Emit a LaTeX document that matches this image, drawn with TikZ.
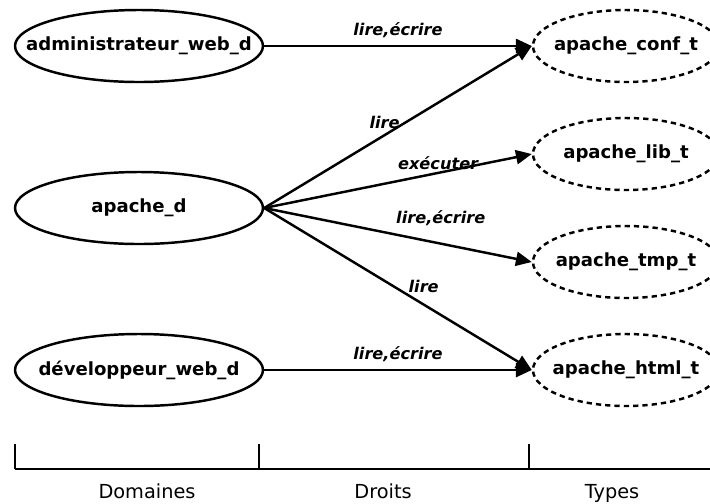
\documentclass[tikz,border=0pt]{standalone}
\usepackage{fontspec}
\setmainfont{DejaVu Sans}
\usetikzlibrary{arrows.meta,positioning,shapes.geometric}

\begin{document}
\begin{tikzpicture}[every node/.style={font=\fontsize{10}{12}\selectfont},
 dom/.style={draw,ellipse,line width=1.4pt,inner xsep=-16pt,inner ysep=0pt,minimum width=4.96cm,minimum height=1.44cm,font=\fontsize{10.3}{12}\selectfont\bfseries},
 typ/.style={dom,dash pattern=on 3pt off 2.3pt,minimum width=3.72cm},
 arr/.style={-{Triangle[length=9pt,width=8pt]},line width=1.4pt},
 lab/.style={font=\fontsize{9.2}{11}\selectfont\bfseries\itshape,inner sep=1pt}]
\clip (0,0) rectangle (14.2,-10.06);
% domaines
\node[dom] (adm) at (2.78,-0.92) {administrateur\_web\_d};
\node[dom] (apd) at (2.78,-4.16) {apache\_d};
\node[dom] (dev) at (2.78,-7.40) {développeur\_web\_d};
% types
\node[typ] (conf) at (12.52,-0.92) {apache\_conf\_t};
\node[typ] (lib) at (12.52,-3.08) {apache\_lib\_t};
\node[typ] (tmp) at (12.52,-5.24) {apache\_tmp\_t};
\node[typ] (html) at (12.52,-7.40) {apache\_html\_t};
% droits
\draw[arr](adm.east)--node[lab,above=3pt]{lire,écrire}(conf.west);
\draw[arr](apd.east)--node[lab,pos=0.45,above=2pt]{lire}(conf.west);
\draw[arr](apd.east)--node[lab,pos=0.65,above=0pt]{exécuter}(lib.west);
\draw[arr](apd.east)--node[lab,pos=0.66,above=8.4pt]{lire,écrire}(tmp.west);
\draw[arr](apd.east)--node[lab,pos=0.596,above=5pt]{lire}(html.west);
\draw[arr](dev.east)--node[lab,above=3pt]{lire,écrire}(html.west);
% axe
\draw[line width=1.4pt] (0.30,-9.38) -- (14.2,-9.38);
\foreach \x in {0.30,5.18,10.58} \draw[line width=1.4pt] (\x,-8.88) -- (\x,-9.38);
\node[anchor=base,font=\fontsize{11}{13}\selectfont] (ldom) at (2.94,-9.96) {Domaines};
\node[anchor=base,font=\fontsize{11}{13}\selectfont] (ldr) at (7.66,-9.96) {Droits};
\node[anchor=base,font=\fontsize{11}{13}\selectfont] (lty) at (12.24,-9.96) {Types};
\end{tikzpicture}
\end{document}
